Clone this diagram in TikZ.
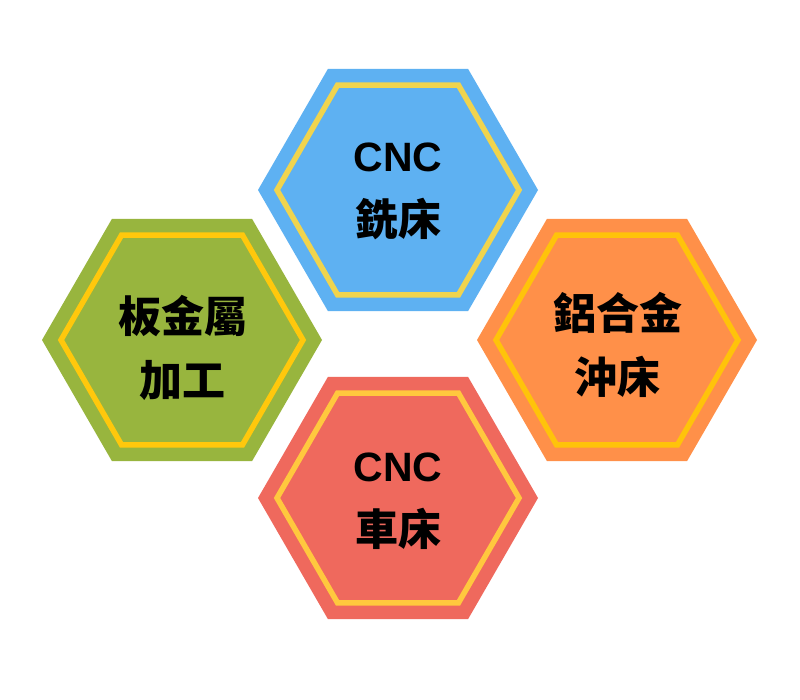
\documentclass[tikz,border=0pt]{standalone}
\usepackage{fontspec}
\newfontfamily\cjk{Noto Sans CJK TC}
\newfontfamily\lat{Liberation Sans}
\definecolor{hblue}{HTML}{5EB1F2}
\definecolor{hbluebd}{HTML}{F0D44E}
\definecolor{hgreen}{HTML}{98B53E}
\definecolor{hgreenbd}{HTML}{FFC80C}
\definecolor{horange}{HTML}{FF9049}
\definecolor{horangebd}{HTML}{FFC30A}
\definecolor{hred}{HTML}{EF695D}
\definecolor{hredbd}{HTML}{FFC83E}
\newcommand\hexpath[2]{(#1)+(0:#2)--+(60:#2)--+(120:#2)--+(180:#2)--+(240:#2)--+(300:#2)--cycle}
\newcommand\latt[1]{{\lat\fontsize{41}{64}\selectfont #1}}
\begin{document}
\begin{tikzpicture}[x=1pt,y=-1pt,
  lbl/.style={font=\cjk\bfseries\fontsize{43}{64}\selectfont, align=center, text=black, inner sep=0pt},
  rim/.style={line width=5.5pt, line join=miter}]
\useasboundingbox[fill=white] (0,0) rectangle (800,700);
\coordinate (cb) at (398,190);
\coordinate (cg) at (182,340);
\coordinate (co) at (617,340);
\coordinate (cr) at (398,498);
\fill[hblue] \hexpath{cb}{140};
\draw[rim,hbluebd] \hexpath{cb}{121};
\fill[hgreen] \hexpath{cg}{140};
\draw[rim,hgreenbd] \hexpath{cg}{121};
\fill[horange] \hexpath{co}{140};
\draw[rim,horangebd] \hexpath{co}{121};
\fill[hred] \hexpath{cr}{140};
\draw[rim,hredbd] \hexpath{cr}{121};
\node[lbl] (tb) at (398,191) {\latt{CNC}\\銑床};
\node[lbl] (tg) at (182.5,348) {板金屬\\加工};
\node[lbl] (to) at (617.5,345) {鋁合金\\沖床};
\node[lbl] (tr) at (398,501) {\latt{CNC}\\車床};
\end{tikzpicture}
\end{document}
